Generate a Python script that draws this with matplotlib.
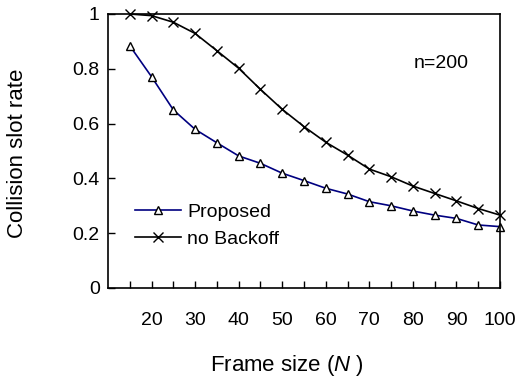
import matplotlib
matplotlib.use("Agg")
import matplotlib.pyplot as plt

plt.rcParams["font.family"] = ["Liberation Sans", "DejaVu Sans"]
plt.rcParams["mathtext.fontset"] = "custom"
plt.rcParams["mathtext.rm"] = "Liberation Sans"
plt.rcParams["mathtext.it"] = "Liberation Sans:italic"

# ── Data ──
frame_size = [15, 20, 25, 30, 35, 40, 45, 50, 55, 60, 65, 70, 75, 80, 85, 90, 95, 100]
proposed = [0.884, 0.771, 0.650, 0.579, 0.530, 0.482, 0.455, 0.419, 0.392, 0.364,
            0.343, 0.315, 0.300, 0.281, 0.266, 0.254, 0.230, 0.224]
no_backoff = [1.000, 0.994, 0.970, 0.929, 0.866, 0.802, 0.725, 0.652, 0.589, 0.532,
              0.485, 0.434, 0.406, 0.372, 0.345, 0.318, 0.290, 0.266]
x_labels = [20, 30, 40, 50, 60, 70, 80, 90, 100]
y_ticks = [0, 0.2, 0.4, 0.6, 0.8, 1]

fig = plt.figure(figsize=(5.16, 3.83), dpi=100)
ax = fig.add_axes([108 / 516, 1 - 288 / 383, 392 / 516, 274 / 383])

ax.plot(frame_size, proposed, color="#000080", linewidth=1.2, marker="^",
        markersize=6, markerfacecolor="white", markeredgecolor="black",
        markeredgewidth=1.0, label="Proposed", clip_on=False)
ax.plot(frame_size, no_backoff, color="black", linewidth=1.2, marker="x",
        markersize=7, markeredgewidth=1.0, label="no Backoff", clip_on=False)

ax.set_xlim(10, 100)
ax.set_ylim(0, 1)
ax.set_xticks(frame_size, minor=True)
ax.set_xticks(x_labels)
ax.set_xticklabels([str(v) for v in x_labels])
ax.set_yticks(y_ticks)
ax.set_yticklabels(["0", "0.2", "0.4", "0.6", "0.8", "1"])
ax.tick_params(axis="both", direction="in", labelsize=14, length=5, width=1)
ax.tick_params(axis="x", which="minor", direction="in", length=5, width=1)
ax.tick_params(axis="x", pad=17)
ax.tick_params(axis="y", pad=6)
for s in ax.spines.values():
    s.set_linewidth(1.2)

ax.text(0.92, 0.82, "n=200", transform=ax.transAxes, fontsize=14, ha="right", va="center")

ax.legend(loc="upper left", bbox_to_anchor=(0.068, 0.31), frameon=False, fontsize=14,
          handlelength=2.4, handletextpad=0.3, labelspacing=0.5, borderaxespad=0,
          borderpad=0)

fig.text(18 / 516, 1 - 153 / 383, "Collision slot rate", rotation=90, fontsize=16,
         ha="center", va="center")
fig.text(287 / 516, 1 - 366 / 383, "Frame size ($\\mathit{N}$ )", fontsize=16,
         ha="center", va="center")

fig.savefig("out.png", dpi=100)
